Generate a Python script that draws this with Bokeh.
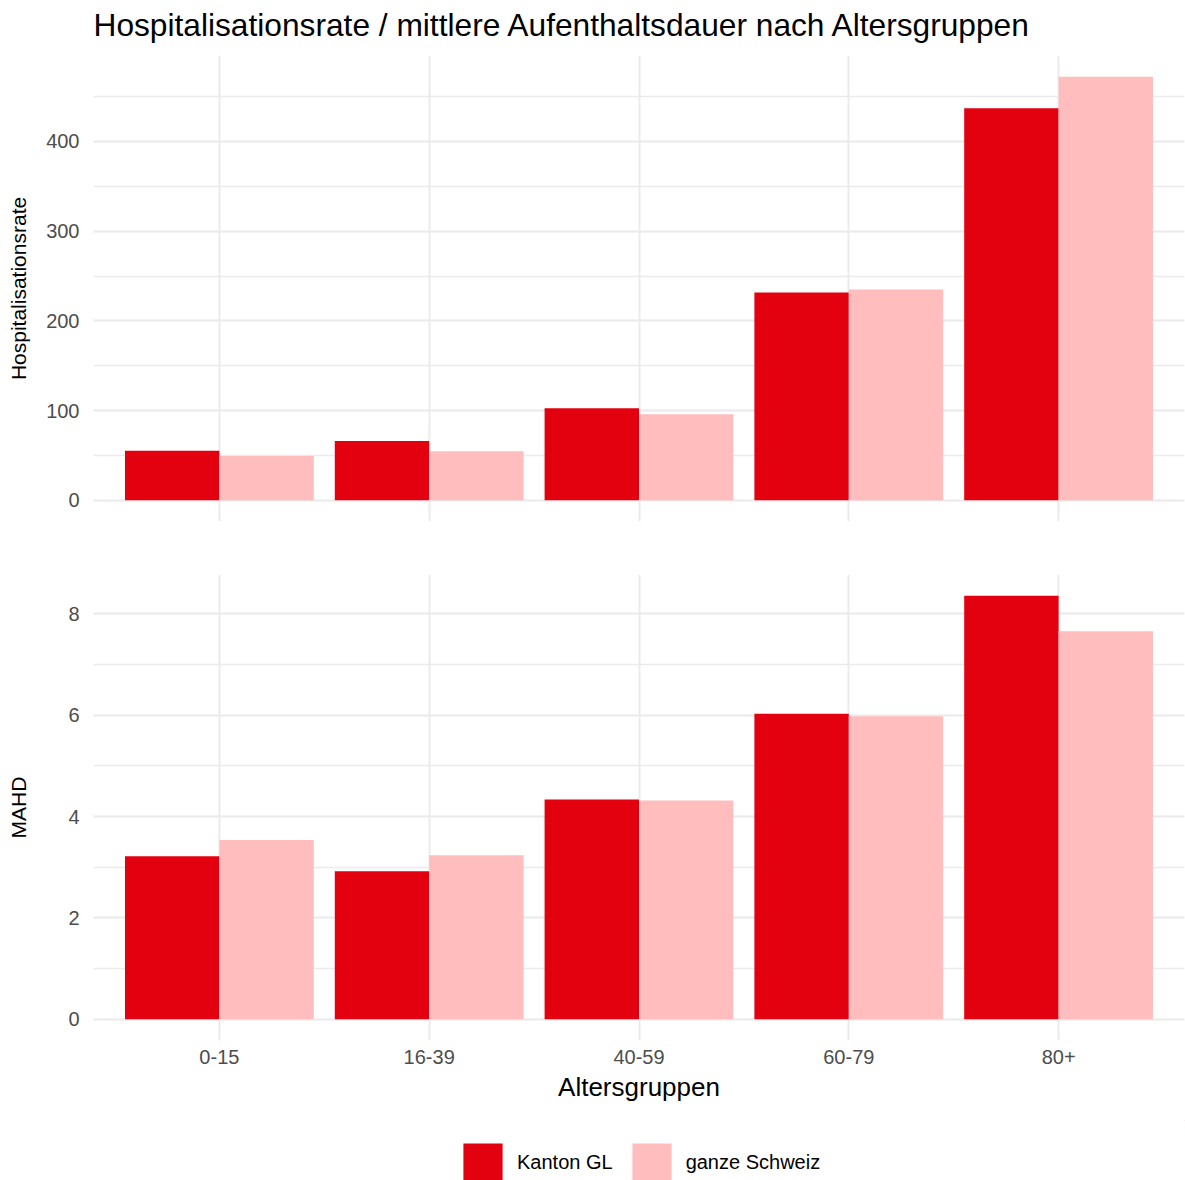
from bokeh.plotting import figure
from bokeh.models import (FactorRange, Range1d, ColumnDataSource, SingleIntervalTicker,
                          Legend, LegendItem, Label)
from bokeh.transform import dodge
from bokeh.layouts import column
from bokeh.embed import file_html
from bokeh.resources import INLINE

# ---------------- data ----------------
categories = ["0-15", "16-39", "40-59", "60-79", "80+"]
series_names = ["Kanton GL", "ganze Schweiz"]
hosp_gl = [55.2, 66.1, 102.6, 231.6, 437.1]
hosp_ch = [49.3, 54.6, 95.9, 234.9, 472.2]
mahd_gl = [3.22, 2.92, 4.34, 6.03, 8.36]
mahd_ch = [3.54, 3.24, 4.32, 5.98, 7.66]

title_text = "Hospitalisationsrate / mittlere Aufenthaltsdauer nach Altersgruppen"
ylab_top = "Hospitalisationsrate"
ylab_bottom = "MAHD"
xlab = "Altersgruppen"

# ---------------- style ----------------
FONT = "Liberation Sans"
C_GL = "#E3000F"
C_CH = "#FFBDBD"
GRID = "#EBEBEB"
TICK_COL = "#4D4D4D"
W = 1185
LEFT = 93


def blank_figure(height):
    f = figure(width=W, height=height, x_range=Range1d(0, 1), y_range=Range1d(0, 1),
               output_backend="svg", toolbar_location=None,
               x_axis_location=None, y_axis_location=None,
               min_border_left=0, min_border_right=0, min_border_top=0, min_border_bottom=0)
    f.outline_line_color = None
    f.grid.visible = False
    return f


def make_panel(gl, ch, ylabel, interval, height, top_border, bottom_border, show_x, label_standoff):
    ymax = max(max(gl), max(ch))
    pad = ymax * 0.05
    p = figure(width=W, height=height,
               x_range=FactorRange(*categories, range_padding=0.1, range_padding_units="absolute"),
               y_range=Range1d(-pad, ymax + pad),
               output_backend="svg", toolbar_location=None,
               min_border_left=LEFT, min_border_right=1,
               min_border_top=top_border, min_border_bottom=bottom_border)
    p.outline_line_color = None
    src = ColumnDataSource(dict(cat=categories, gl=gl, ch=ch))
    p.vbar(x=dodge("cat", -0.225, range=p.x_range), top="gl", bottom=0, width=0.45,
           source=src, fill_color=C_GL, line_color=None)
    p.vbar(x=dodge("cat", 0.225, range=p.x_range), top="ch", bottom=0, width=0.45,
           source=src, fill_color=C_CH, line_color=None)

    p.yaxis.ticker = SingleIntervalTicker(interval=interval, num_minor_ticks=2)
    p.ygrid.grid_line_color = GRID
    p.ygrid.grid_line_width = 2
    p.ygrid.minor_grid_line_color = GRID
    p.ygrid.minor_grid_line_width = 1.5
    p.xgrid.grid_line_color = GRID
    p.xgrid.grid_line_width = 2

    for ax in (p.xaxis, p.yaxis):
        ax.axis_line_color = None
        ax.major_tick_line_color = None
        ax.minor_tick_line_color = None
        ax.major_tick_out = 0
        ax.major_tick_in = 0
        ax.major_label_text_font = FONT
        ax.major_label_text_font_size = "20px"
        ax.major_label_text_color = TICK_COL
        ax.axis_label_text_font = FONT
        ax.axis_label_text_font_style = "normal"
        ax.axis_label_text_color = "black"

    p.yaxis.axis_label = ylabel
    p.yaxis.axis_label_text_font_size = "21px"
    p.yaxis.major_label_standoff = 10
    p.yaxis.axis_label_standoff = label_standoff

    if show_x:
        p.xaxis.axis_label = xlab
        p.xaxis.axis_label_text_font_size = "26px"
        p.xaxis.major_label_standoff = 9
        p.xaxis.axis_label_standoff = 5
    else:
        p.xaxis.visible = False
    return p


# title strip (its frame is aligned with the panels' frames by the column layout)
H0 = 55
p0 = blank_figure(H0)
p0.add_layout(Label(x=0, y=31, x_units="screen", y_units="screen", text=title_text,
                    text_font=FONT, text_font_size="31.7px", text_color="black",
                    text_align="left", text_baseline="alphabetic"))

p1 = make_panel(hosp_gl, hosp_ch, ylab_top, 100, 466, 0, 0, False, 13)
p2 = make_panel(mahd_gl, mahd_ch, ylab_bottom, 2, 599, 53, 80, True, 35)

# legend strip
p3 = blank_figure(60)
r1 = p3.vbar(x=[5], top=[5], bottom=[4], width=0.1, fill_color=C_GL, line_color=None)
r2 = p3.vbar(x=[5], top=[5], bottom=[4], width=0.1, fill_color=C_CH, line_color=None)
legend = Legend(items=[LegendItem(label=series_names[0], renderers=[r1]),
                       LegendItem(label=series_names[1], renderers=[r2])],
                orientation="horizontal", location=(365, -7),
                glyph_width=49, glyph_height=49, label_standoff=10, spacing=14,
                padding=0, margin=0, border_line_color=None, background_fill_alpha=0,
                label_text_font=FONT, label_text_font_size="20px", label_text_color="black")
p3.add_layout(legend)

layout = column(p0, p1, p2, p3, spacing=0)
open("out.html", "w").write(file_html(layout, INLINE))
